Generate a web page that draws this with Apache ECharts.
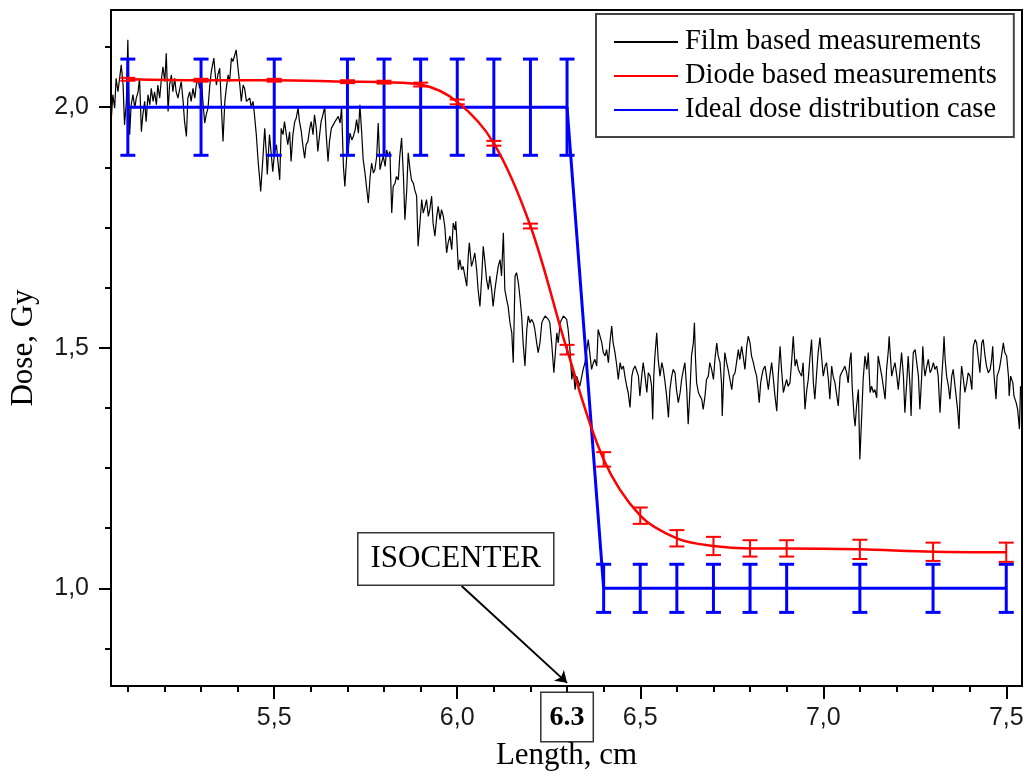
<!DOCTYPE html>
<html>
<head>
<meta charset="utf-8">
<script src="https://cdn.jsdelivr.net/npm/echarts@6/dist/echarts.min.js"></script>
<style>
  html, body { margin: 0; padding: 0; background: #fff; }
  #chart { width: 1027px; height: 776px; }
</style>
</head>
<body>
<div id="chart"></div>
<script>
// Measurement positions along the profile (cm)
const positions = [5.1, 5.3, 5.5, 5.7, 5.8, 5.9, 6.0, 6.1, 6.2, 6.3, 6.4, 6.5, 6.6, 6.7, 6.8, 6.9, 7.1, 7.3, 7.5];

// Diode based measurements (Gy) and their uncertainties
const diodeDose = [2.058, 2.056, 2.056, 2.053, 2.052, 2.047, 2.011, 1.925, 1.753, 1.496, 1.268, 1.151, 1.104, 1.088, 1.083, 1.083, 1.081, 1.076, 1.075];
const diodeErr  = [0.003, 0.003, 0.003, 0.003, 0.003, 0.004, 0.005, 0.005, 0.005, 0.010, 0.015, 0.017, 0.017, 0.019, 0.017, 0.017, 0.020, 0.019, 0.020];

// Ideal dose distribution (Gy) and tolerance bands
const idealDose = [2.0, 2.0, 2.0, 2.0, 2.0, 2.0, 2.0, 2.0, 2.0, 2.0, 1.0, 1.0, 1.0, 1.0, 1.0, 1.0, 1.0, 1.0, 1.0];
const idealErr  = [0.1, 0.1, 0.1, 0.1, 0.1, 0.1, 0.1, 0.1, 0.1, 0.1, 0.05, 0.05, 0.05, 0.05, 0.05, 0.05, 0.05, 0.05, 0.05];

// Film scan profile: [length (cm), dose (Gy)]
const filmProfile = [
  [5.055,1.977],[5.059,2.026],[5.064,1.998],[5.068,2.060],[5.073,2.032],[5.082,2.088],[5.087,2.046],[5.091,1.963],
  [5.096,2.012],[5.100,2.140],[5.105,1.943],[5.109,2.005],[5.114,2.026],[5.119,1.998],[5.123,2.019],[5.128,2.032],
  [5.132,2.060],[5.137,1.949],[5.141,1.984],[5.146,2.012],[5.150,1.970],[5.155,2.026],[5.160,2.005],[5.164,2.039],
  [5.169,2.012],[5.173,2.032],[5.178,2.005],[5.182,2.046],[5.187,2.019],[5.191,2.053],[5.196,2.084],[5.201,2.053],
  [5.205,2.112],[5.210,1.991],[5.214,2.046],[5.219,2.067],[5.223,2.032],[5.228,2.060],[5.232,2.032],[5.237,2.019],
  [5.242,2.039],[5.246,2.053],[5.251,2.012],[5.255,1.970],[5.260,1.939],[5.264,2.019],[5.269,2.032],[5.273,2.012],
  [5.278,2.039],[5.283,2.019],[5.287,2.046],[5.292,2.060],[5.296,2.039],[5.301,2.060],[5.305,2.012],[5.310,1.967],
  [5.314,1.984],[5.319,1.998],[5.324,2.046],[5.328,2.074],[5.335,2.102],[5.339,2.067],[5.342,2.046],[5.346,2.067],
  [5.351,2.081],[5.355,2.012],[5.360,1.929],[5.365,2.012],[5.369,2.039],[5.374,2.067],[5.378,2.053],[5.383,2.102],
  [5.387,2.095],[5.392,2.108],[5.396,2.119],[5.401,2.081],[5.406,2.046],[5.410,2.012],[5.415,2.046],[5.419,2.039],
  [5.424,2.012],[5.428,2.012],[5.433,2.019],[5.437,2.001],[5.442,2.012],[5.446,1.984],[5.451,1.943],[5.456,1.887],
  [5.460,1.853],[5.463,1.825],[5.466,1.860],[5.469,1.894],[5.474,1.956],[5.478,1.908],[5.481,1.860],[5.487,1.943],
  [5.492,1.901],[5.496,1.866],[5.501,1.908],[5.506,1.922],[5.510,1.887],[5.515,1.849],[5.519,1.956],[5.524,1.943],
  [5.528,1.970],[5.533,1.943],[5.537,1.922],[5.542,1.949],[5.546,1.887],[5.551,1.943],[5.556,1.970],[5.560,1.977],
  [5.565,1.998],[5.569,1.970],[5.574,1.949],[5.578,1.922],[5.583,1.894],[5.587,1.922],[5.592,1.929],[5.597,1.956],
  [5.601,1.970],[5.606,1.943],[5.610,1.984],[5.615,1.956],[5.619,1.908],[5.624,1.943],[5.628,1.970],[5.633,1.984],
  [5.638,2.001],[5.642,1.943],[5.647,1.887],[5.651,1.929],[5.656,1.956],[5.666,1.970],[5.675,1.981],[5.680,1.967],
  [5.684,2.001],[5.689,1.877],[5.693,1.835],[5.698,1.898],[5.702,1.911],[5.707,1.946],[5.712,1.932],[5.716,1.939],
  [5.721,1.953],[5.725,1.974],[5.730,1.946],[5.734,2.005],[5.739,1.946],[5.743,1.891],[5.748,1.863],[5.753,1.828],
  [5.757,1.801],[5.762,1.856],[5.766,1.884],[5.771,1.863],[5.775,1.870],[5.780,1.898],[5.784,1.967],[5.789,1.870],
  [5.793,1.884],[5.798,1.898],[5.803,1.877],[5.807,1.911],[5.812,1.898],[5.816,1.908],[5.821,1.780],[5.825,1.835],
  [5.830,1.842],[5.834,1.856],[5.839,1.849],[5.843,1.898],[5.848,1.936],[5.853,1.856],[5.857,1.766],[5.862,1.828],
  [5.866,1.905],[5.871,1.870],[5.875,1.849],[5.880,1.842],[5.884,1.828],[5.889,1.815],[5.893,1.711],[5.898,1.759],
  [5.903,1.808],[5.907,1.780],[5.912,1.794],[5.916,1.808],[5.921,1.773],[5.925,1.787],[5.930,1.815],[5.934,1.759],
  [5.939,1.732],[5.944,1.773],[5.948,1.794],[5.953,1.766],[5.957,1.787],[5.962,1.773],[5.966,1.752],[5.971,1.697],
  [5.975,1.718],[5.980,1.732],[5.985,1.704],[5.989,1.759],[5.994,1.745],[5.996,1.763],[6.000,1.711],[6.003,1.662],
  [6.007,1.683],[6.012,1.662],[6.016,1.669],[6.021,1.649],[6.026,1.628],[6.030,1.690],[6.033,1.718],[6.039,1.669],
  [6.044,1.683],[6.048,1.697],[6.053,1.662],[6.057,1.621],[6.062,1.586],[6.067,1.649],[6.071,1.711],[6.076,1.676],
  [6.080,1.642],[6.085,1.621],[6.089,1.649],[6.094,1.621],[6.098,1.586],[6.103,1.621],[6.108,1.649],[6.112,1.669],
  [6.117,1.683],[6.121,1.649],[6.126,1.739],[6.130,1.621],[6.135,1.600],[6.139,1.586],[6.144,1.552],[6.149,1.531],
  [6.153,1.469],[6.158,1.649],[6.162,1.656],[6.167,1.635],[6.171,1.607],[6.176,1.566],[6.180,1.510],[6.185,1.462],
  [6.190,1.538],[6.194,1.566],[6.199,1.552],[6.203,1.559],[6.208,1.552],[6.212,1.538],[6.217,1.510],[6.221,1.490],
  [6.226,1.510],[6.231,1.552],[6.235,1.559],[6.240,1.566],[6.244,1.569],[6.249,1.559],[6.253,1.552],[6.258,1.510],
  [6.264,1.448],[6.272,1.531],[6.276,1.510],[6.281,1.552],[6.290,1.566],[6.299,1.559],[6.303,1.538],[6.308,1.496],
  [6.313,1.434],[6.317,1.455],[6.322,1.413],[6.326,1.441],[6.331,1.441],[6.335,1.420],[6.340,1.420],[6.344,1.455],
  [6.349,1.469],[6.354,1.496],[6.358,1.517],[6.363,1.483],[6.367,1.455],[6.372,1.469],[6.376,1.476],[6.381,1.462],
  [6.385,1.538],[6.390,1.524],[6.395,1.510],[6.399,1.490],[6.404,1.483],[6.408,1.496],[6.413,1.469],[6.417,1.510],
  [6.422,1.545],[6.426,1.510],[6.431,1.490],[6.436,1.462],[6.440,1.434],[6.445,1.469],[6.449,1.455],[6.454,1.462],
  [6.458,1.441],[6.463,1.420],[6.467,1.407],[6.472,1.376],[6.477,1.441],[6.481,1.455],[6.486,1.462],[6.490,1.462],
  [6.495,1.441],[6.499,1.400],[6.504,1.441],[6.508,1.469],[6.513,1.441],[6.518,1.407],[6.522,1.448],[6.527,1.441],
  [6.531,1.420],[6.534,1.351],[6.537,1.441],[6.540,1.483],[6.545,1.531],[6.549,1.476],[6.554,1.441],[6.559,1.469],
  [6.563,1.455],[6.568,1.427],[6.572,1.400],[6.577,1.355],[6.581,1.413],[6.586,1.441],[6.590,1.455],[6.595,1.448],
  [6.599,1.413],[6.604,1.386],[6.609,1.407],[6.613,1.434],[6.618,1.455],[6.622,1.469],[6.627,1.413],[6.631,1.341],
  [6.636,1.413],[6.640,1.483],[6.645,1.510],[6.648,1.552],[6.651,1.476],[6.654,1.427],[6.659,1.407],[6.663,1.400],
  [6.668,1.393],[6.672,1.372],[6.677,1.400],[6.681,1.434],[6.686,1.441],[6.690,1.469],[6.695,1.455],[6.700,1.434],
  [6.704,1.476],[6.709,1.510],[6.713,1.483],[6.718,1.469],[6.722,1.427],[6.724,1.358],[6.727,1.420],[6.731,1.490],
  [6.736,1.469],[6.740,1.455],[6.745,1.434],[6.750,1.413],[6.754,1.441],[6.759,1.448],[6.763,1.469],[6.768,1.496],
  [6.772,1.476],[6.777,1.503],[6.781,1.483],[6.786,1.455],[6.791,1.503],[6.795,1.524],[6.800,1.510],[6.804,1.483],
  [6.809,1.469],[6.813,1.455],[6.818,1.441],[6.822,1.413],[6.825,1.386],[6.829,1.427],[6.832,1.441],[6.836,1.455],
  [6.841,1.462],[6.845,1.441],[6.850,1.413],[6.854,1.441],[6.859,1.469],[6.863,1.441],[6.868,1.400],[6.873,1.368],
  [6.877,1.441],[6.882,1.503],[6.886,1.455],[6.891,1.407],[6.895,1.420],[6.900,1.434],[6.904,1.420],[6.909,1.427],
  [6.914,1.476],[6.918,1.524],[6.923,1.462],[6.927,1.476],[6.932,1.455],[6.936,1.448],[6.941,1.441],[6.945,1.469],
  [6.950,1.372],[6.955,1.413],[6.959,1.434],[6.964,1.483],[6.968,1.517],[6.973,1.427],[6.977,1.393],[6.982,1.448],
  [6.986,1.490],[6.991,1.521],[6.996,1.476],[7.000,1.441],[7.005,1.462],[7.009,1.469],[7.014,1.434],[7.018,1.393],
  [7.023,1.462],[7.027,1.441],[7.032,1.427],[7.037,1.400],[7.041,1.379],[7.046,1.441],[7.050,1.448],[7.055,1.455],
  [7.059,1.462],[7.064,1.448],[7.068,1.427],[7.073,1.476],[7.076,1.490],[7.079,1.420],[7.084,1.358],[7.087,1.337],
  [7.091,1.379],[7.096,1.413],[7.100,1.268],[7.105,1.358],[7.109,1.434],[7.114,1.483],[7.119,1.455],[7.123,1.490],
  [7.128,1.407],[7.132,1.420],[7.137,1.407],[7.141,1.413],[7.146,1.396],[7.150,1.483],[7.155,1.462],[7.160,1.441],
  [7.164,1.420],[7.169,1.393],[7.173,1.455],[7.178,1.496],[7.180,1.524],[7.184,1.476],[7.187,1.441],[7.191,1.455],
  [7.196,1.469],[7.201,1.441],[7.205,1.413],[7.210,1.455],[7.214,1.490],[7.219,1.441],[7.223,1.365],[7.228,1.427],
  [7.232,1.483],[7.237,1.420],[7.240,1.358],[7.243,1.441],[7.246,1.490],[7.251,1.496],[7.255,1.496],[7.260,1.441],
  [7.264,1.372],[7.269,1.441],[7.272,1.503],[7.275,1.462],[7.278,1.441],[7.283,1.462],[7.287,1.476],[7.292,1.448],
  [7.296,1.455],[7.301,1.469],[7.305,1.455],[7.310,1.462],[7.314,1.441],[7.319,1.365],[7.324,1.441],[7.328,1.490],
  [7.330,1.524],[7.333,1.476],[7.337,1.441],[7.342,1.420],[7.346,1.393],[7.351,1.441],[7.355,1.455],[7.360,1.420],
  [7.365,1.386],[7.367,1.372],[7.371,1.331],[7.374,1.407],[7.378,1.462],[7.383,1.434],[7.387,1.407],[7.392,1.427],
  [7.396,1.448],[7.401,1.441],[7.406,1.413],[7.410,1.503],[7.415,1.517],[7.419,1.510],[7.424,1.476],[7.428,1.448],
  [7.433,1.510],[7.437,1.517],[7.442,1.483],[7.446,1.462],[7.451,1.448],[7.456,1.455],[7.460,1.476],[7.463,1.503],
  [7.466,1.448],[7.472,1.393],[7.475,1.441],[7.481,1.455],[7.487,1.483],[7.492,1.510],[7.496,1.490],[7.501,1.483],
  [7.506,1.441],[7.508,1.400],[7.512,1.441],[7.518,1.427],[7.521,1.400],[7.527,1.386],[7.531,1.372],[7.536,1.331],
  [7.539,1.420]
];

// Axis ticks and labels
const xMajorTicks = [5.5, 6.0, 6.5, 7.0, 7.5];
const xMinorTicks = [5.1, 5.2, 5.3, 5.4, 5.6, 5.7, 5.8, 5.9, 6.1, 6.2, 6.3, 6.4, 6.6, 6.7, 6.8, 6.9, 7.1, 7.2, 7.3, 7.4];
const yMajorTicks = [1.0, 1.5, 2.0];
const yMinorTicks = [0.875, 1.125, 1.25, 1.375, 1.625, 1.75, 1.875, 2.125];
const isocenter = 6.3;

const seriesNames = ['Film based measurements', 'Diode based measurements', 'Ideal dose distribution case'];

// ---- layout / style ----
const X_MIN = 5.054, X_MAX = 7.543;
const Y_MIN = 0.797, Y_MAX = 2.202;
const SANS = 'Liberation Sans';
const SERIF = 'Liberation Serif';
const commaFmt = v => v.toFixed(1).replace('.', ',');

function errorBarRenderer(color, lineWidth, capHalf) {
  return function (params, api) {
    const x = api.value(0);
    const top = api.coord([x, api.value(2)]);
    const bot = api.coord([x, api.value(1)]);
    const style = { stroke: color, lineWidth: lineWidth, fill: null };
    return {
      type: 'group',
      children: [
        { type: 'line', shape: { x1: top[0], y1: top[1], x2: bot[0], y2: bot[1] }, style: style },
        { type: 'line', shape: { x1: top[0] - capHalf, y1: top[1], x2: top[0] + capHalf, y2: top[1] }, style: style },
        { type: 'line', shape: { x1: bot[0] - capHalf, y1: bot[1], x2: bot[0] + capHalf, y2: bot[1] }, style: style }
      ]
    };
  };
}

const diodePoints = positions.map((x, i) => [x, diodeDose[i]]);
const diodeBars = positions.map((x, i) => [x, diodeDose[i] - diodeErr[i], diodeDose[i] + diodeErr[i]]);
const idealPoints = positions.map((x, i) => [x, idealDose[i]]);
const idealBars = positions.map((x, i) => [x, idealDose[i] - idealErr[i], idealDose[i] + idealErr[i]]);

const tickLine = { color: '#000', width: 2 };

const chart = echarts.init(document.getElementById('chart'), null, { renderer: 'canvas' });
chart.setOption({
  animation: false,
  backgroundColor: '#fff',
  grid: {
    left: 111, right: 5, top: 10, bottom: 89,
    show: true, borderColor: '#000', borderWidth: 2, backgroundColor: 'transparent'
  },
  legend: {
    data: seriesNames,
    orient: 'vertical',
    left: 596, top: 14,
    padding: [11, 17, 10, 17],
    itemGap: 0,
    itemWidth: 64,
    itemHeight: 14,
    selectedMode: false,
    backgroundColor: '#fff',
    borderColor: '#444',
    borderWidth: 2,
    borderRadius: 0,
    itemStyle: { opacity: 0 },
    textStyle: { fontFamily: SERIF, fontSize: 28.5, color: '#000', lineHeight: 34, padding: [0, 0, 0, 2] }
  },
  xAxis: [
    {
      type: 'value', min: X_MIN, max: X_MAX, position: 'bottom',
      axisLine: { show: true, onZero: false, lineStyle: tickLine },
      axisTick: { show: true, customValues: xMajorTicks, length: 13, lineStyle: tickLine },
      axisLabel: { show: true, customValues: xMajorTicks, formatter: commaFmt, fontFamily: SANS, fontSize: 25, color: '#1a1a1a', margin: 20 },
      splitLine: { show: false },
      name: 'Length, cm', nameLocation: 'middle', nameGap: 54,
      nameTextStyle: { fontFamily: SERIF, fontSize: 31, color: '#000' }
    },
    {
      type: 'value', min: X_MIN, max: X_MAX, position: 'bottom',
      axisLine: { show: false, onZero: false },
      axisTick: { show: true, customValues: xMinorTicks, length: 6, lineStyle: tickLine },
      axisLabel: { show: false },
      splitLine: { show: false }
    },
    {
      type: 'value', min: X_MIN, max: X_MAX, position: 'bottom',
      axisLine: { show: false, onZero: false },
      axisTick: { show: false },
      axisLabel: {
        show: true, customValues: [isocenter], margin: 16,
        formatter: v => '{box|' + v.toFixed(1) + '}',
        rich: {
          box: {
            fontFamily: SERIF, fontSize: 28, fontWeight: 'bold', color: '#000',
            lineHeight: 30, padding: [11, 8, 9, 8],
            borderColor: '#333', borderWidth: 1.5, backgroundColor: '#fff'
          }
        }
      },
      splitLine: { show: false }
    }
  ],
  yAxis: [
    {
      type: 'value', min: Y_MIN, max: Y_MAX, position: 'left',
      axisLine: { show: true, onZero: false, lineStyle: tickLine },
      axisTick: { show: true, customValues: yMajorTicks, length: 12, lineStyle: tickLine },
      axisLabel: { show: true, customValues: yMajorTicks, formatter: commaFmt, fontFamily: SANS, fontSize: 25, color: '#1a1a1a', margin: 22 },
      splitLine: { show: false },
      name: 'Dose, Gy', nameLocation: 'middle', nameGap: 72, nameRotate: 90,
      nameTextStyle: { fontFamily: SERIF, fontSize: 31, color: '#000' }
    },
    {
      type: 'value', min: Y_MIN, max: Y_MAX, position: 'left',
      axisLine: { show: false, onZero: false },
      axisTick: { show: true, customValues: yMinorTicks, length: 6, lineStyle: tickLine },
      axisLabel: { show: false },
      splitLine: { show: false }
    }
  ],
  series: [
    {
      name: seriesNames[0], type: 'line', data: filmProfile, z: 2,
      symbol: 'none', showSymbol: false,
      lineStyle: { color: '#000', width: 1.2 }, itemStyle: { color: '#000' },
      markPoint: {
        silent: true, symbol: 'rect', symbolSize: 0,
        data: [{ coord: [5.996, 1.061], value: 'ISOCENTER' }],
        label: {
          show: true, position: 'inside', formatter: 'ISOCENTER',
          fontFamily: SERIF, fontSize: 31, color: '#000', lineHeight: 31,
          padding: [11, 12, 9, 12], backgroundColor: '#fff', borderColor: '#333', borderWidth: 1.5
        }
      },
      markLine: {
        silent: true, symbol: ['none', 'arrow'], symbolSize: 11,
        lineStyle: { color: '#000', width: 2, type: 'solid' },
        label: { show: false },
        data: [[{ coord: [6.012, 1.005] }, { coord: [isocenter, 0.8035] }]]
      }
    },
    {
      name: seriesNames[2], type: 'line', data: idealPoints, z: 3,
      symbol: 'none', showSymbol: false,
      lineStyle: { color: '#0000ff', width: 3 }, itemStyle: { color: '#0000ff' }
    },
    {
      name: 'ideal-bars', type: 'custom', data: idealBars, z: 3,
      renderItem: errorBarRenderer('#0000ff', 3, 7.5),
      encode: { x: 0, y: [1, 2] }, silent: true
    },
    {
      name: seriesNames[1], type: 'line', data: diodePoints, z: 4,
      symbol: 'none', showSymbol: false, smooth: 0.35,
      lineStyle: { color: '#ff0000', width: 2.5 }, itemStyle: { color: '#ff0000' }
    },
    {
      name: 'diode-bars', type: 'custom', data: diodeBars, z: 4,
      renderItem: errorBarRenderer('#ff0000', 2, 7.5),
      encode: { x: 0, y: [1, 2] }, silent: true
    }
  ]
});
</script>
</body>
</html>
